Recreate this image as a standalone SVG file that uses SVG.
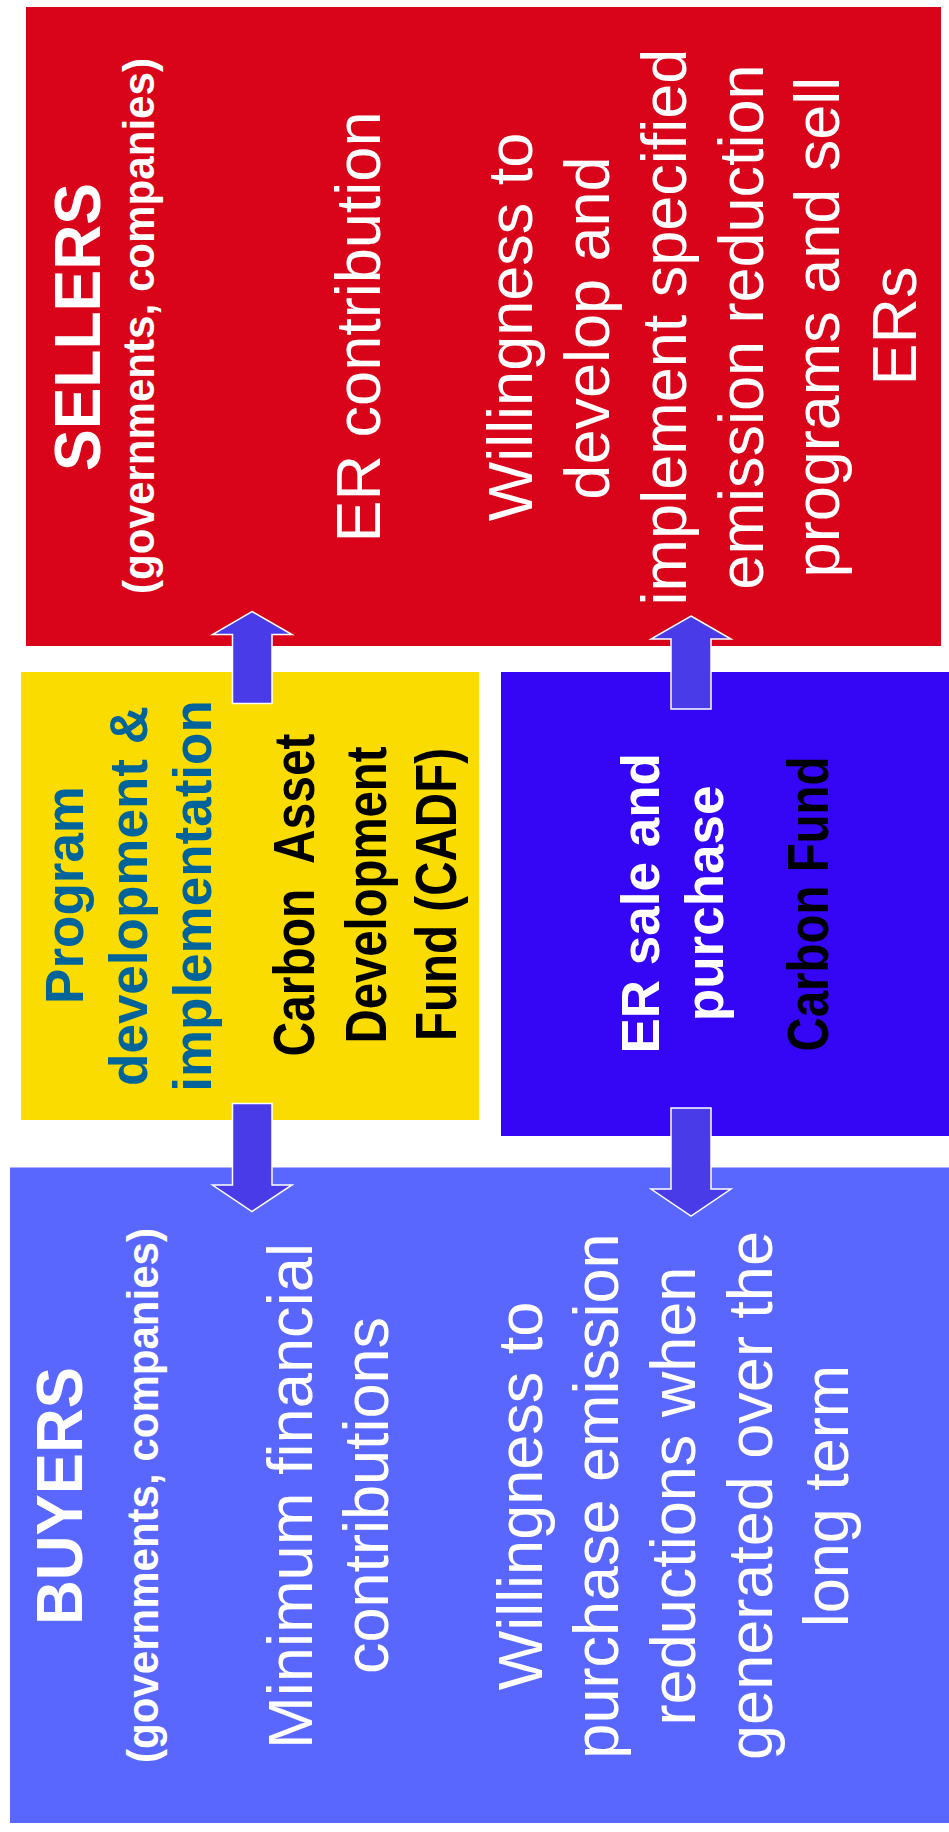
<svg xmlns="http://www.w3.org/2000/svg" width="949" height="1832" viewBox="0 0 949 1832">
<style>
text{font-family:"Liberation Sans",Arial,Helvetica,sans-serif;text-anchor:middle}
.w{fill:#ffffff}
.reg{font-size:63px}
.big{font-size:65px;font-weight:bold}
.sub{font-size:44px;font-weight:bold}
.teal{fill:#00649a;font-size:53px;font-weight:bold}
.blk{fill:#000000;font-size:57px;font-weight:bold}
.mid{fill:#ffffff;font-size:53px;font-weight:bold}
.arrow{fill:#4a3be8;stroke:#ffffff;stroke-width:1.5;stroke-linejoin:miter}
</style>
<rect x="0" y="0" width="949" height="1832" fill="#ffffff"/>
<g id="sellers">
<rect x="26" y="7" width="915" height="639" fill="#d9041a"/>
<text class="w big" transform="translate(99.5,327) rotate(-90)" textLength="288" lengthAdjust="spacingAndGlyphs">SELLERS</text>
<text class="w sub" transform="translate(154,326) rotate(-90)" textLength="536" lengthAdjust="spacingAndGlyphs">(governments, companies)</text>
<text class="w reg" transform="translate(380,327) rotate(-90)" textLength="431" lengthAdjust="spacingAndGlyphs">ER contribution</text>
<text class="w reg" transform="translate(531.5,327) rotate(-90)">Willingness to</text>
<text class="w reg" transform="translate(608.5,328) rotate(-90)">develop and</text>
<text class="w reg" transform="translate(685.5,327) rotate(-90)">implement specified</text>
<text class="w reg" transform="translate(762.5,327) rotate(-90)">emission reduction</text>
<text class="w reg" transform="translate(839,327) rotate(-90)">programs and sell</text>
<text class="w reg" transform="translate(916,326) rotate(-90)">ERs</text>
</g>
<g id="cadf">
<rect x="21" y="672" width="458" height="448" fill="#fadc00"/>
<text class="teal" transform="translate(83.3,895) rotate(-90)">Program</text>
<text class="teal" transform="translate(146.7,896) rotate(-90)">development &amp;</text>
<text class="teal" transform="translate(210.7,896) rotate(-90)">implementation</text>
<text class="blk" xml:space="preserve" transform="translate(314,895) rotate(-90)" textLength="323" lengthAdjust="spacingAndGlyphs">Carbon  Asset</text>
<text class="blk" transform="translate(385.7,895) rotate(-90)" textLength="297" lengthAdjust="spacingAndGlyphs">Development</text>
<text class="blk" transform="translate(456,894.5) rotate(-90)" textLength="293" lengthAdjust="spacingAndGlyphs">Fund (CADF)</text>
</g>
<g id="carbon-fund">
<rect x="501" y="672" width="448" height="464" fill="#3406f5"/>
<text class="mid" transform="translate(659,903.3) rotate(-90)">ER sale and</text>
<text class="mid" transform="translate(722.7,903.3) rotate(-90)">purchase</text>
<text class="blk" transform="translate(827.5,904) rotate(-90)" textLength="295" lengthAdjust="spacingAndGlyphs">Carbon Fund</text>
</g>
<g id="buyers">
<rect x="10" y="1167.5" width="939" height="655.5" fill="#5a67ff"/>
<text class="w big" transform="translate(81.7,1496) rotate(-90)" textLength="258" lengthAdjust="spacingAndGlyphs">BUYERS</text>
<text class="w sub" transform="translate(158,1495.5) rotate(-90)" textLength="535" lengthAdjust="spacingAndGlyphs">(governments, companies)</text>
<text class="w reg" transform="translate(311.7,1496) rotate(-90)" textLength="506" lengthAdjust="spacingAndGlyphs">Minimum financial</text>
<text class="w reg" transform="translate(388,1495.5) rotate(-90)">contributions</text>
<text class="w reg" transform="translate(541.7,1496) rotate(-90)">Willingness to</text>
<text class="w reg" transform="translate(618.3,1496) rotate(-90)">purchase emission</text>
<text class="w reg" transform="translate(695,1496) rotate(-90)">reductions when</text>
<text class="w reg" transform="translate(771.7,1495.5) rotate(-90)">generated over the</text>
<text class="w reg" transform="translate(848.3,1496) rotate(-90)">long term</text>
</g>
<g id="connectors">
<path class="arrow" d="M252,611.5 L292,634.5 L272,634.5 L272,703.5 L232.5,703.5 L232.5,634.5 L212.5,634.5 Z"/>
<path class="arrow" d="M232.5,1103.5 L272,1103.5 L272,1185 L292,1185 L252,1211.5 L212.5,1185 L232.5,1185 Z"/>
<path class="arrow" d="M691,616 L731,639 L711,639 L711,709 L671,709 L671,639 L651,639 Z"/>
<path class="arrow" d="M671,1108 L711,1108 L711,1189 L731,1189 L691,1216 L651,1189 L671,1189 Z"/>
</g>
</svg>
